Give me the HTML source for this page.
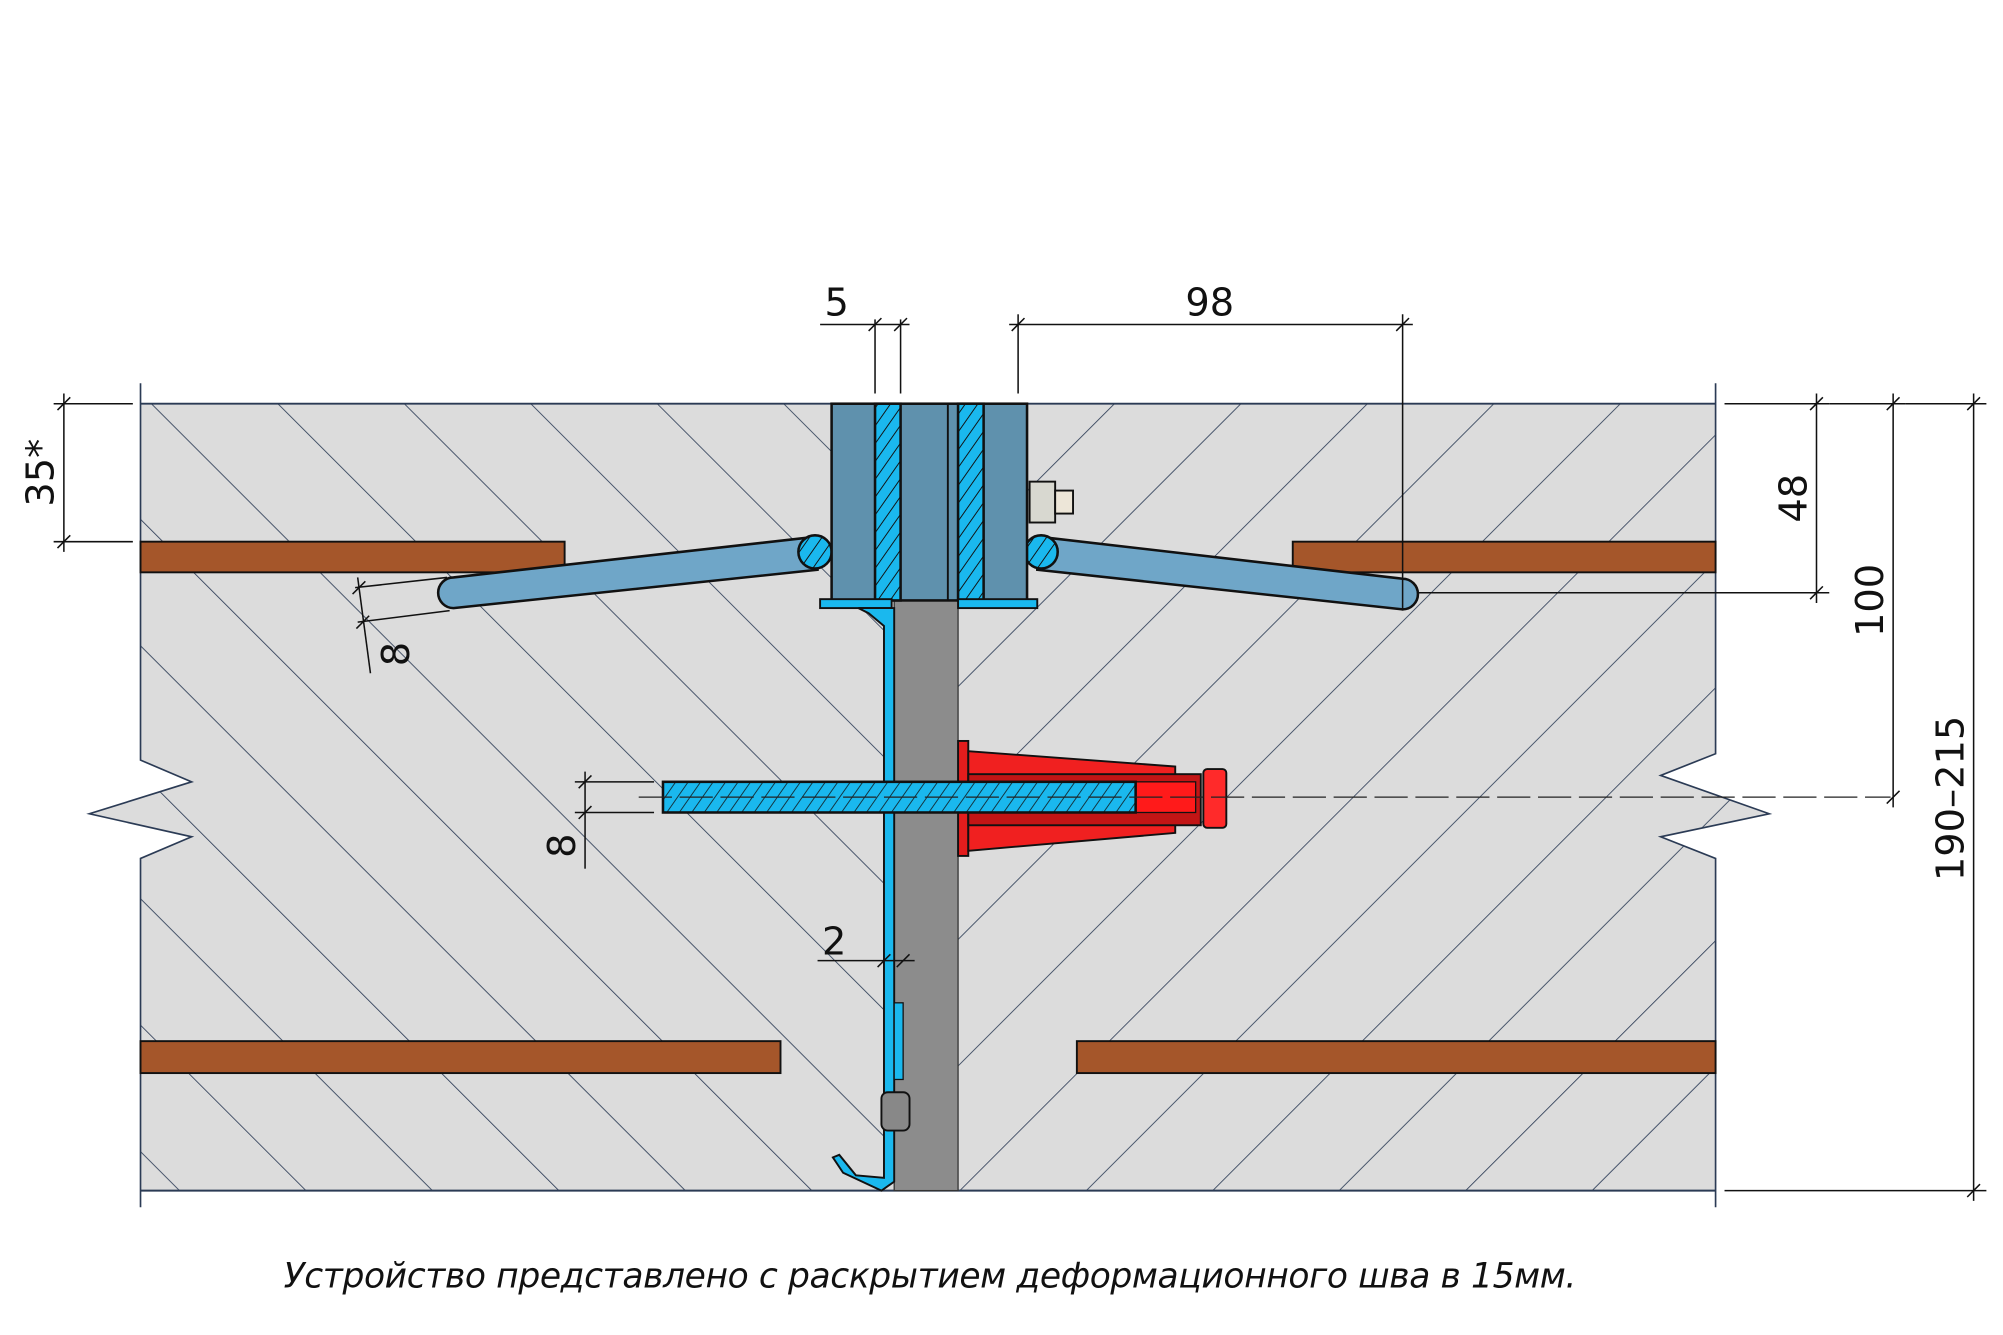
<!DOCTYPE html>
<html><head><meta charset="utf-8"><style>
html,body{margin:0;padding:0;background:#fff;}
svg{display:block;}
text{font-family:"DejaVu Sans","Liberation Sans",sans-serif;fill:#111;}
</style></head><body>
<svg width="2003" height="1335" viewBox="0 0 1568 1045" xmlns="http://www.w3.org/2000/svg">
<defs>
<pattern id="hl" width="70" height="70" patternUnits="userSpaceOnUse" patternTransform="rotate(-45)">
<line x1="0" y1="0" x2="0" y2="70" stroke="#2b3b55" stroke-width="1.3"/></pattern>
<pattern id="hr" width="70" height="70" patternUnits="userSpaceOnUse" patternTransform="rotate(45)">
<line x1="0" y1="0" x2="0" y2="70" stroke="#2b3b55" stroke-width="1.3"/></pattern>
<pattern id="bh" width="8" height="8" patternUnits="userSpaceOnUse" patternTransform="rotate(35)">
<line x1="0" y1="0" x2="0" y2="8" stroke="#111" stroke-width="1.5"/></pattern>
</defs>

<!-- concrete -->
<polygon points="110,316 700,316 700,932 110,932 110,672 150,655 70,637 150,612 110,595" fill="#dcdcdc"/>
<polygon points="110,316 700,316 700,932 110,932 110,672 150,655 70,637 150,612 110,595" fill="url(#hl)"/>
<polygon points="750,316 1343,316 1343,590 1300,607 1385,637 1300,655 1343,672 1343,932 750,932" fill="#dcdcdc"/>
<polygon points="750,316 1343,316 1343,590 1300,607 1385,637 1300,655 1343,672 1343,932 750,932" fill="url(#hr)"/>
<polyline points="110,300 110,595 150,612 70,637 150,655 110,672 110,945" fill="none" stroke="#2b3b55" stroke-width="1.3"/>
<polyline points="1343,300 1343,590 1300,607 1385,637 1300,655 1343,672 1343,945" fill="none" stroke="#2b3b55" stroke-width="1.3"/>
<line x1="110" y1="316" x2="1343" y2="316" stroke="#2b3b55" stroke-width="1.5"/>
<line x1="110" y1="932" x2="1343" y2="932" stroke="#2b3b55" stroke-width="1.5"/>

<!-- gap -->
<rect x="700" y="470" width="50" height="462" fill="#8c8c8c" stroke="#333" stroke-width="1"/>

<!-- rebars -->
<g fill="#a5562a" stroke="#111" stroke-width="1.5">
<rect x="110" y="424" width="332" height="24"/>
<rect x="1012" y="424" width="331" height="24"/>
<rect x="110" y="815" width="501" height="25"/>
<rect x="843" y="815" width="500" height="25"/>
</g>

<!-- anchor arms -->
<path d="M640,420 L355,452 A12,12 0 0 0 355,476 L640,446 Z" fill="#6fa6c8" stroke="#111" stroke-width="2"/>
<path d="M812,420 L1098,453 A12,12 0 0 1 1098,477 L812,446 Z" fill="#6fa6c8" stroke="#111" stroke-width="2"/>
<circle cx="638" cy="432" r="13" fill="#1ab8ee" stroke="#111" stroke-width="2"/>
<circle cx="638" cy="432" r="13" fill="url(#bh)"/>
<circle cx="815" cy="432" r="13" fill="#1ab8ee" stroke="#111" stroke-width="2"/>
<circle cx="815" cy="432" r="13" fill="url(#bh)"/>

<!-- center block -->
<rect x="651" y="316" width="153" height="154" fill="#5f91ad" stroke="#111" stroke-width="2"/>
<rect x="685" y="316" width="20" height="154" fill="#1ab8ee" stroke="#111" stroke-width="2"/>
<rect x="685" y="316" width="20" height="154" fill="url(#bh)"/>
<rect x="750" y="316" width="20" height="154" fill="#1ab8ee" stroke="#111" stroke-width="2"/>
<rect x="750" y="316" width="20" height="154" fill="url(#bh)"/>
<line x1="742" y1="316" x2="742" y2="470" stroke="#111" stroke-width="1.5"/>
<rect x="642" y="469" width="56" height="7" fill="#1ab8ee" stroke="#111" stroke-width="1.5"/>
<rect x="750" y="469" width="62" height="7" fill="#1ab8ee" stroke="#111" stroke-width="1.5"/>
<!-- nut -->
<rect x="806" y="377" width="20" height="32" fill="#d8d8d0" stroke="#111" stroke-width="1.5"/>
<rect x="826" y="384" width="14" height="18" fill="#ede6d8" stroke="#111" stroke-width="1.5"/>

<!-- bent plate -->
<path d="M672,476 L700,476 L700,925 L690,932 L660,918 L652,906 L657,904 L670,920 L692,922 L692,490 L680,480 Z" fill="#1ab8ee" stroke="#111" stroke-width="1.5"/>
<rect x="700" y="785" width="7" height="60" fill="#1ab8ee" stroke="#111" stroke-width="1"/>
<rect x="690" y="855" width="22" height="30" rx="5" fill="#888" stroke="#111" stroke-width="1.5"/>

<!-- red anchor -->
<rect x="750" y="580" width="8" height="90" fill="#e31d1d" stroke="#111" stroke-width="1.5"/>
<polygon points="758,588 920,600 920,652 758,666" fill="#f02020" stroke="#111" stroke-width="1.5"/>
<rect x="758" y="606" width="182" height="40" fill="#c21515" stroke="#111" stroke-width="1.5"/>
<rect x="888" y="612" width="48" height="24" fill="#ff1a1a" stroke="#111" stroke-width="1"/>
<rect x="942" y="602" width="18" height="46" rx="3" fill="#ff2a2a" stroke="#111" stroke-width="1.5"/>

<!-- horizontal bolt -->
<rect x="519" y="612" width="370" height="24" fill="#1ab8ee" stroke="#111" stroke-width="2"/>
<rect x="519" y="612" width="370" height="24" fill="url(#bh)" opacity="0.8"/>
<line x1="500" y1="624" x2="1480" y2="624" stroke="#222" stroke-width="1" stroke-dasharray="26,6"/>

<!-- dimensions -->
<g stroke="#111" stroke-width="1.2" fill="none">
<line x1="685" y1="250" x2="685" y2="308"/><line x1="705" y1="250" x2="705" y2="308"/>
<line x1="642" y1="254" x2="712" y2="254"/>
<line x1="680" y1="259" x2="690" y2="249"/><line x1="700" y1="259" x2="710" y2="249"/>
<line x1="797" y1="246" x2="797" y2="308"/><line x1="1098" y1="246" x2="1098" y2="478"/>
<line x1="790" y1="254" x2="1106" y2="254"/>
<line x1="792" y1="259" x2="802" y2="249"/><line x1="1093" y1="259" x2="1103" y2="249"/>
<line x1="42" y1="316" x2="104" y2="316"/><line x1="42" y1="424" x2="104" y2="424"/>
<line x1="50" y1="308" x2="50" y2="432"/>
<line x1="45" y1="321" x2="55" y2="311"/><line x1="45" y1="429" x2="55" y2="419"/>
<line x1="1350" y1="316" x2="1432" y2="316"/><line x1="1110" y1="464" x2="1432" y2="464"/>
<line x1="1422" y1="308" x2="1422" y2="472"/>
<line x1="1417" y1="321" x2="1427" y2="311"/><line x1="1417" y1="469" x2="1427" y2="459"/>
<line x1="1432" y1="316" x2="1492" y2="316"/><line x1="1482" y1="308" x2="1482" y2="632"/>
<line x1="1477" y1="321" x2="1487" y2="311"/><line x1="1477" y1="629" x2="1487" y2="619"/>
<line x1="1350" y1="932" x2="1555" y2="932"/><line x1="1492" y1="316" x2="1555" y2="316"/>
<line x1="1545" y1="308" x2="1545" y2="940"/>
<line x1="1540" y1="321" x2="1550" y2="311"/><line x1="1540" y1="937" x2="1550" y2="927"/>
<line x1="278" y1="460" x2="350" y2="452"/><line x1="280" y1="487" x2="352" y2="478"/>
<line x1="280" y1="452" x2="290" y2="527"/>
<line x1="276" y1="465" x2="286" y2="455"/><line x1="279" y1="492" x2="289" y2="482"/>
<line x1="450" y1="612" x2="512" y2="612"/><line x1="450" y1="636" x2="512" y2="636"/>
<line x1="458" y1="604" x2="458" y2="680"/>
<line x1="453" y1="617" x2="463" y2="607"/><line x1="453" y1="641" x2="463" y2="631"/>
<line x1="640" y1="752" x2="716" y2="752"/>
<line x1="687" y1="757" x2="697" y2="747"/><line x1="702" y1="757" x2="712" y2="747"/>
</g>
<g font-size="30">
<text x="655" y="247" text-anchor="middle">5</text>
<text x="947" y="247" text-anchor="middle">98</text>
<text x="653" y="747" text-anchor="middle">2</text>
<text transform="translate(42,370) rotate(-90)" text-anchor="middle">35*</text>
<text transform="translate(1414,390) rotate(-90)" text-anchor="middle">48</text>
<text transform="translate(1474,470) rotate(-90)" text-anchor="middle">100</text>
<text transform="translate(1537,625) rotate(-90)" text-anchor="middle">190–215</text>
<text transform="translate(320,512) rotate(-90)" text-anchor="middle">8</text>
<text transform="translate(450,662) rotate(-90)" text-anchor="middle">8</text>
</g>
<text x="728" y="1008" text-anchor="middle" font-size="27" font-style="italic" textLength="1012">Устройство представлено с раскрытием деформационного шва в 15мм.</text>
</svg>
</body></html>
